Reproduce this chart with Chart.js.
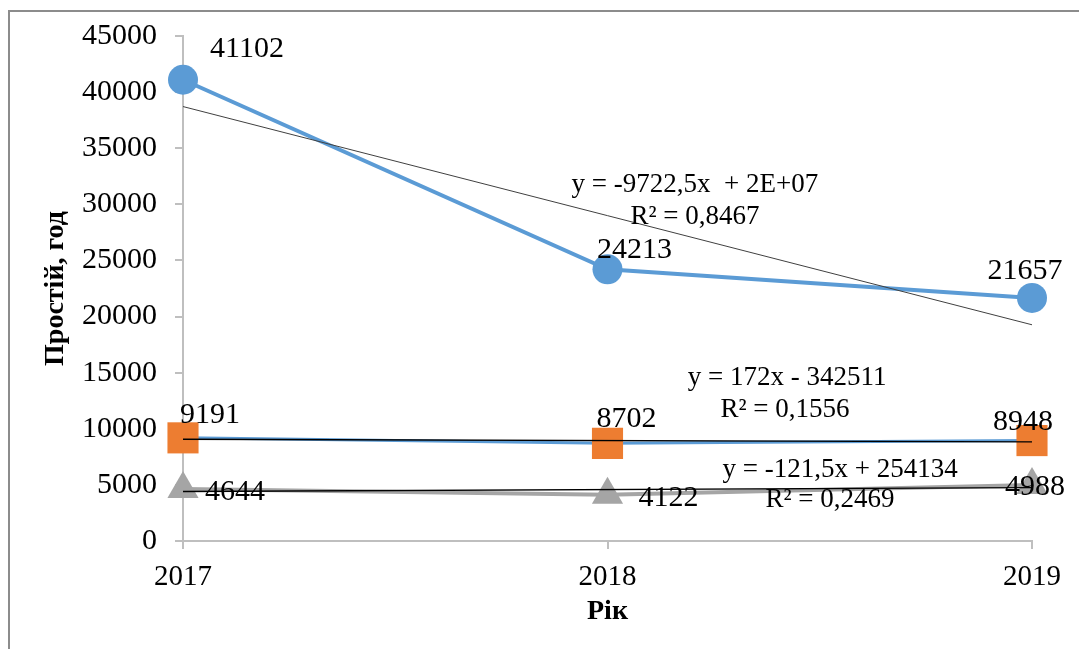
<!DOCTYPE html>
<html>
<head>
<meta charset="utf-8">
<script src="https://cdn.jsdelivr.net/npm/chart.js@4/dist/chart.umd.min.js"></script>
<style>
    html, body { margin: 0; padding: 0; background: #fff; }
    .wrap { position: relative; width: 1079px; height: 649px; overflow: hidden; }
    .frame { position: absolute; left: 8px; top: 10px; width: 1100px; height: 700px; border: 2px solid #8c8c8c; box-sizing: border-box; }
    canvas { position: absolute; left: 0; top: 0; }
</style>
</head>
<body>
<div class="wrap">
    <div class="frame"></div>
    <canvas id="chart" width="1079" height="649"></canvas>
</div>
<script>
const years = ['2017', '2018', '2019'];
const series1 = [41102, 24213, 21657];
const series2 = [9191, 8702, 8948];
const series3 = [4644, 4122, 4988];
// trend line end points
const trend1 = [38713, null, 19268];
const trend2 = [9068, null, 8826];
const trend3 = [4413, null, 4757];
const equations = [
    'y = -9722,5x  + 2E+07', 'R² = 0,8467',
    'y = 172x - 342511', 'R² = 0,1556',
    'y = -121,5x + 254134', 'R² = 0,2469'
];

const blue = '#5b9bd5';
const orange = '#ed7d31';
const gray = '#a5a5a5';

Chart.defaults.font.family = '"Liberation Serif", "Times New Roman", serif';
Chart.defaults.color = '#000';

// label offsets from each point, in px
const labelOffsets = [
    [[64, -31], [27, -19], [-7, -27]],
    [[27, -23], [19, -24], [-9, -18]],
    [[52, 3], [61, 3], [3, 2]]
];
// where the trend equations sit: [category index, y value]
const eqAnchors = [
    [1.206, 31720], [1.206, 28870],
    [1.423, 14520], [1.418, 11670],
    [1.548, 6330], [1.524, 3650]
];

const textPlugin = {
    id: 'texts',
    afterDatasetsDraw(chart) {
        const ctx = chart.ctx;
        const xs = chart.scales.x, ys = chart.scales.y;
        ctx.save();
        ctx.fillStyle = '#000';
        ctx.textAlign = 'center';
        ctx.textBaseline = 'middle';
        ctx.font = '30px "Liberation Serif", serif';
        [0, 1, 2].forEach(di => {
            const meta = chart.getDatasetMeta(di);
            meta.data.forEach((pt, i) => {
                const off = labelOffsets[di][i];
                ctx.fillText(chart.data.datasets[di].data[i], pt.x + off[0], pt.y + off[1]);
            });
        });
        ctx.font = '27px "Liberation Serif", serif';
        equations.forEach((t, i) => {
            const a = eqAnchors[i];
            ctx.fillText(t, xs.getPixelForValue(a[0]), ys.getPixelForValue(a[1]));
        });
        ctx.restore();
    }
};

const axisGrid = {
    display: true,
    drawOnChartArea: false,
    drawTicks: true,
    tickLength: 8,
    color: '#bfbfbf',
    lineWidth: 2
};

new Chart(document.getElementById('chart'), {
    type: 'line',
    data: {
        labels: years,
        datasets: [
            { data: series1, borderColor: blue, backgroundColor: blue, borderWidth: 4,
              pointStyle: 'circle', pointRadius: 15, pointBorderWidth: 0, order: 3 },
            { data: series2, borderColor: blue, backgroundColor: orange, borderWidth: 3,
              pointStyle: 'rect', pointRadius: 22, pointBorderWidth: 0, order: 2 },
            { data: series3, borderColor: gray, backgroundColor: gray, borderWidth: 4,
              pointStyle: 'triangle', pointRadius: 18, pointBorderWidth: 0, order: 4 },
            { data: trend1, borderColor: '#404040', borderWidth: 1, pointRadius: 0, spanGaps: true, order: 0 },
            { data: trend2, borderColor: '#000', borderWidth: 1.3, pointRadius: 0, spanGaps: true, order: 0 },
            { data: trend3, borderColor: '#000', borderWidth: 1.3, pointRadius: 0, spanGaps: true, order: 1 }
        ]
    },
    options: {
        responsive: false,
        animation: false,
        layout: { padding: { left: 0, right: 47, top: 36, bottom: 0 } },
        plugins: {
            legend: { display: false },
            tooltip: { enabled: false }
        },
        scales: {
            x: {
                offset: false,
                grid: axisGrid,
                border: { color: '#bfbfbf', width: 2 },
                ticks: { font: { size: 29 }, padding: 11, maxRotation: 0 },
                title: { display: true, text: 'Рік', font: { size: 28, weight: 'bold' }, padding: { top: 0, bottom: 20 } },
                afterFit(s) { s.height = 108; }
            },
            y: {
                min: 0,
                max: 45000,
                grid: axisGrid,
                border: { color: '#bfbfbf', width: 2 },
                ticks: { stepSize: 5000, font: { size: 30 }, padding: 18,
                         callback: v => String(v) },
                title: { display: true, text: 'Простій, год', font: { size: 28, weight: 'bold' }, padding: { top: 39, bottom: 0 } },
                afterFit(s) { s.width = 183; }
            }
        }
    },
    plugins: [textPlugin]
});
</script>
</body>
</html>
